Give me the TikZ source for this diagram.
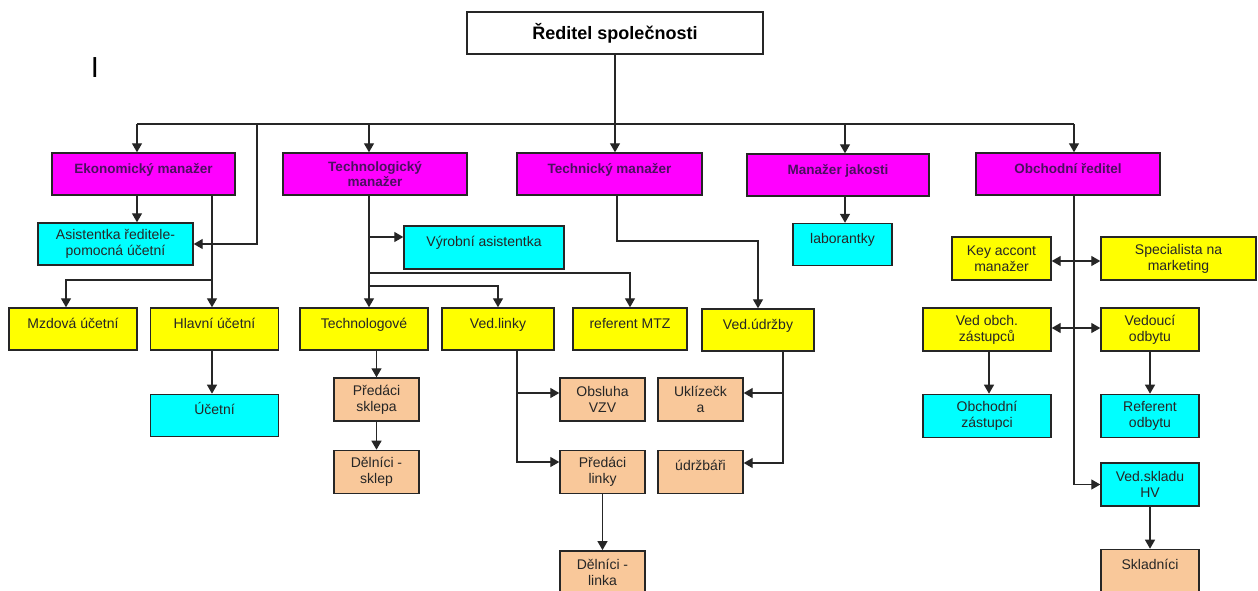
\documentclass[tikz,border=0pt]{standalone}
\usepackage{fontspec}
\setsansfont{Liberation Sans}
\RequirePackage{xcolor}
\tikzset{every picture/.style={/utils/exec={\sffamily}}}
\usetikzlibrary{calc}
\usetikzlibrary{positioning}
\usetikzlibrary{arrows.meta}

\definecolor{mgfill}{HTML}{FF00FF}
\definecolor{mgtext}{HTML}{4B1060}
\definecolor{cyfill}{HTML}{00FFFF}
\definecolor{ylfill}{HTML}{FFFF00}
\definecolor{pcfill}{HTML}{F9C89A}

\tikzset{
  box/.style={draw=black!85, line width=1.4pt, minimum height=42pt, align=center,
    inner sep=1pt, font=\fontsize{14}{16}\selectfont, text=black!85},
  oneln/.style={text height=10pt, text depth=12pt},
  mgr/.style={box, fill=mgfill, minimum width=184pt, text=mgtext,
    font=\fontsize{13.5}{15}\selectfont\bfseries},
  yel/.style={box, fill=ylfill},
  cyn/.style={box, fill=cyfill},
  pch/.style={box, fill=pcfill, minimum width=85pt, minimum height=43pt},
  ln/.style={line width=1.3pt, draw=black!85},
  arr/.style={ln, -{Triangle[length=9pt,width=10pt]}},
  arrs/.style={ln, {Triangle[length=9pt,width=10pt]}-{Triangle[length=9pt,width=10pt]}},
}

\begin{document}
\begin{tikzpicture}[x=1pt,y=-1pt]
  \useasboundingbox (0,0) rectangle (1258,590);

  \node[font=\fontsize{29}{30}\selectfont] (cur) at (95,68) {I};
  \node[box, minimum width=296pt, text=black, font=\fontsize{18}{20}\selectfont\bfseries] (ceo) at (615,33) {Ředitel společnosti};

  % managers
  \node[mgr, minimum width=183pt, oneln] (ekon) at (143.5,174) {Ekonomický manažer};
  \node[mgr] (techg) at (375,174) {Technologický\\manažer};
  \node[mgr, minimum width=185pt, oneln] (tech) at (609.5,174) {Technický manažer};
  \node[mgr, minimum width=182pt, oneln] (jak) at (838,175) {Manažer jakosti};
  \node[mgr, oneln] (obch) at (1068,174) {Obchodní ředitel};

  % second row
  \node[cyn, minimum width=155pt] (asist) at (115.5,244) {Asistentka ředitele-\\pomocná účetní};
  \node[cyn, minimum width=160pt, minimum height=43pt, oneln] (vyrob) at (484,247.5) {Výrobní asistentka};
  \node[cyn, minimum width=99pt, oneln] (labor) at (842.5,244.5) {laborantky};
  \node[yel, minimum width=99pt, minimum height=43pt] (key) at (1001.5,258.5) {Key accont\\manažer};
  \node[yel, minimum width=155pt, minimum height=43pt] (spec) at (1178.5,258.5) {Specialista na\\marketing};

  % third row
  \node[yel, minimum width=128pt, oneln] (mzda) at (73,329) {Mzdová účetní};
  \node[yel, minimum width=128pt, oneln] (hlavni) at (214.5,329) {Hlavní účetní};
  \node[yel, minimum width=128pt, oneln] (tgove) at (364,329) {Technologové};
  \node[yel, minimum width=112pt, oneln] (vedlin) at (498,329) {Ved.linky};
  \node[yel, minimum width=114pt, oneln] (mtz) at (630,329) {referent MTZ};
  \node[yel, minimum width=112pt, oneln] (vedudr) at (758,330) {Ved.údržby};
  \node[yel, minimum width=128pt, minimum height=43pt] (vedobch) at (987,329.5) {Ved obch.\\zástupců};
  \node[yel, minimum width=98pt, minimum height=43pt] (vedodb) at (1150,329.5) {Vedoucí\\odbytu};

  % lower rows
  \node[cyn, minimum width=128pt, oneln, below=43pt of hlavni] (ucet) {Účetní};
  \node[pch] (predsk) at (376.5,399.5) {Předáci\\sklepa};
  \node[pch, below=28pt of predsk] (delsk) {Dělníci -\\sklep};
  \node[pch] (obsl) at (602.5,399.5) {Obsluha\\VZV};
  \node[pch, below=28pt of obsl] (predlin) {Předáci\\linky};
  \node[pch, below=56pt of predlin] (dellin) {Dělníci -\\linka};
  \node[pch] (ukliz) at (700.5,399.5) {Uklízečk\\a};
  \node[pch, oneln, below=28pt of ukliz] (udrz) {údržbáři};
  \node[cyn, minimum width=128pt, minimum height=43pt, below=42pt of vedobch] (obzast) {Obchodní\\zástupci};
  \node[cyn, minimum width=98pt, minimum height=43pt, below=42pt of vedodb] (refodb) {Referent\\odbytu};
  \node[cyn, minimum width=98pt, minimum height=43pt] (skladhv) at (1150,484.5) {Ved.skladu\\HV};
  \node[pch, minimum width=98pt, oneln, below=42pt of skladhv] (sklad) {Skladníci};

  % top level
  \draw[ln] (137,124) -- (1074,124);
  \draw[arr] (ceo.south) -- (ceo.south |- tech.north);
  \foreach \x/\n in {137/ekon, 369/techg, 845/jak, 1074/obch}
    \draw[arr] (\x,124) -- (\x,124 |- \n.north);
  \draw[arr] (257,124) |- (asist.east);

  % Ekonomicky
  \draw[arr] (ekon.south -| 137,0) -- (asist.north -| 137,0);
  \draw[arr] (ekon.south -| 212,0) -- (hlavni.north -| 212,0);
  \draw[arr] (212,280) -| (mzda.north -| 66,0);
  \draw[arr] (hlavni.south -| 212,0) -- (ucet.north -| 212,0);

  % Technologicky
  \draw[arr] (techg.south -| 369,0) -- (tgove.north -| 369,0);
  \draw[arr] (369,237) -- (vyrob.west |- 0,237);
  \draw[arr] (369,273) -| (mtz.north);
  \draw[arr] (369,286) -| (vedlin.north);
  \draw[arr] (tgove.south -| predsk.north) -- (predsk.north);
  \draw[arr] (predsk) -- (delsk);
  \draw[arr] (vedlin.south -| 517,0) |- (obsl.west |- 0,393);
  \draw[arr] (vedlin.south -| 517,0) |- (predlin.west |- 0,462);
  \draw[arr] (predlin) -- (dellin);

  % Technicky
  \draw[arr] (tech.south -| 617,0) -- (617,241) -| (vedudr.north);
  \draw[arr] (vedudr.south -| 783,0) |- (ukliz.east |- 0,393);
  \draw[arr] (vedudr.south -| 783,0) |- (udrz.east |- 0,463);

  % jakost, obchod
  \draw[arr] (jak.south -| 845,0) -- (labor.north -| 845,0);
  \draw[arr] (obch.south -| 1074,0) |- (skladhv.west);
  \draw[arrs] (key.east |- 0,261) -- (spec.west |- 0,261);
  \draw[arrs] (vedobch.east |- 0,328) -- (vedodb.west |- 0,328);
  \draw[arr] (vedobch.south -| 989,0) -- (obzast.north -| 989,0);
  \draw[arr] (vedodb) -- (refodb);
  \draw[arr] (skladhv) -- (sklad);
\end{tikzpicture}
\end{document}
